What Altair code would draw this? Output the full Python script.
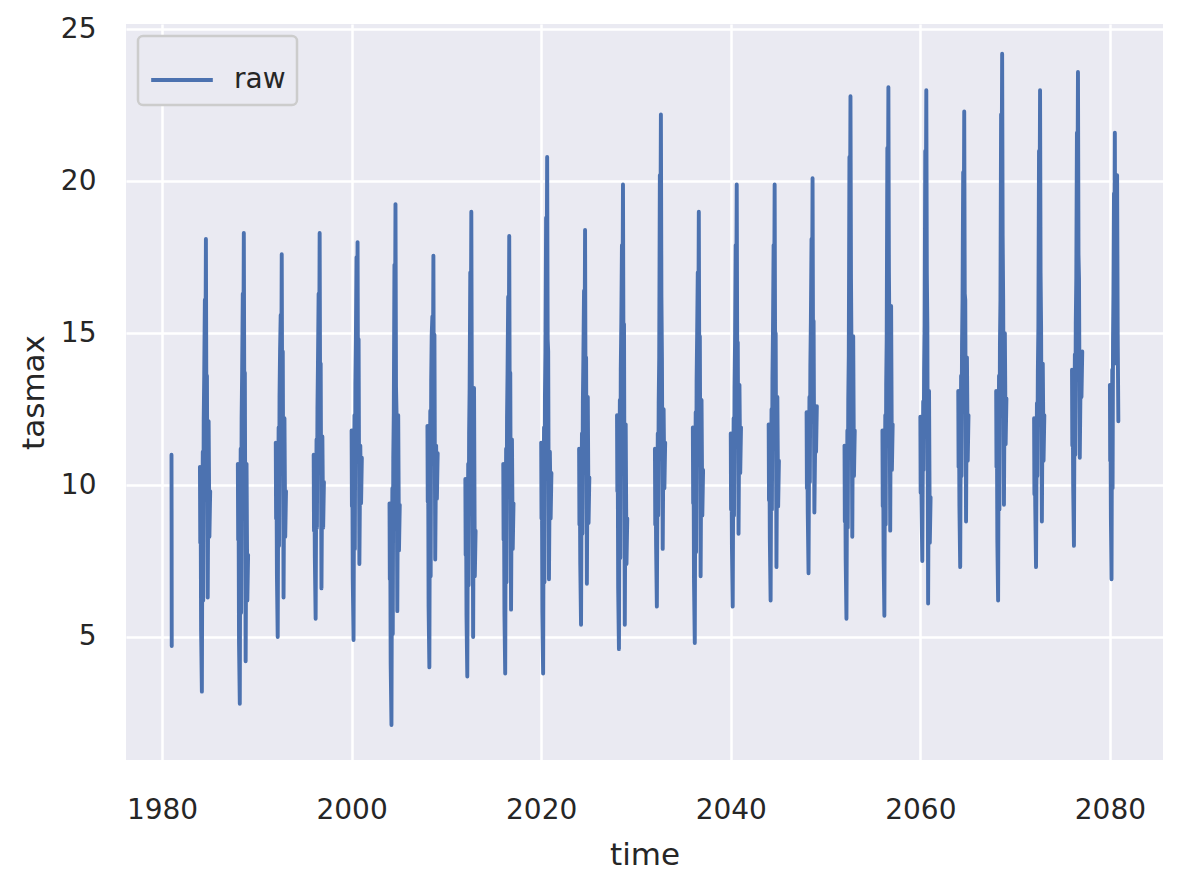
import altair as alt
import pandas as pd

# daily tasmax samples, one cluster per stored year
cluster_years = [1984, 1988, 1992, 1996, 2000, 2004, 2008, 2012, 2016, 2020,
                 2024, 2028, 2032, 2036, 2040, 2044, 2048, 2052, 2056, 2060,
                 2064, 2068, 2072, 2076, 2080]

# day offset from 1 January of each cluster year
sample_days = [0, 12, 25, 45, 75, 95, 110, 125, 145, 165, 190, 210, 230, 250, 270, 300, 335, 365, 395]
last_days = [0, 10, 20, 38, 62, 78, 90, 103, 120, 136, 157, 174, 190, 207, 223, 248, 277, 300, 325]

cluster_values = [
    [10.6, 8.1, 10.1, 5.2, 3.2, 9.1, 11.1, 6.2, 12.1, 13.6, 16.1, 13.6, 18.1, 12.1, 13.6, 6.3, 12.1, 8.3, 9.8],
    [10.7, 8.2, 10.2, 4.8, 2.8, 9.2, 11.2, 5.8, 12.2, 13.7, 16.3, 13.8, 18.3, 12.3, 13.7, 4.2, 10.7, 6.2, 7.7],
    [11.4, 8.9, 10.9, 7.0, 5.0, 9.9, 11.9, 8.0, 12.9, 14.4, 15.6, 13.1, 17.6, 11.6, 14.4, 6.3, 12.2, 8.3, 9.8],
    [11.0, 8.5, 10.5, 7.6, 5.6, 9.5, 11.5, 8.6, 12.5, 14.0, 16.3, 13.8, 18.3, 12.3, 14.0, 6.6, 11.6, 8.6, 10.1],
    [11.8, 9.3, 11.3, 6.9, 4.9, 10.3, 12.3, 7.9, 13.3, 14.8, 17.5, 13.5, 18.0, 12.0, 14.8, 7.4, 11.3, 9.4, 10.9],
    [9.4, 6.9, 8.9, 4.1, 2.1, 7.9, 9.9, 5.1, 10.9, 12.4, 17.25, 14.75, 19.25, 13.25, 12.4, 5.85, 12.3, 7.85, 9.35],
    [11.95, 9.45, 11.45, 6.0, 4.0, 10.45, 12.45, 7.0, 13.45, 14.95, 15.55, 13.05, 17.55, 11.55, 14.95, 7.55, 11.3, 9.55, 11.05],
    [10.2, 7.7, 9.7, 5.7, 3.7, 8.7, 10.7, 6.7, 11.7, 13.2, 17.0, 14.5, 19.0, 13.0, 13.2, 5.0, 13.2, 7.0, 8.5],
    [10.7, 8.2, 10.2, 5.8, 3.8, 9.2, 11.2, 6.8, 12.2, 13.7, 16.2, 13.7, 18.2, 12.2, 13.7, 5.9, 11.5, 7.9, 9.4],
    [11.4, 8.9, 10.9, 5.8, 3.8, 9.9, 11.9, 6.8, 12.9, 14.4, 18.8, 16.3, 20.8, 14.8, 14.4, 6.9, 11.1, 8.9, 10.4],
    [11.2, 8.7, 10.7, 7.4, 5.4, 9.7, 11.7, 8.4, 12.7, 14.2, 16.4, 13.9, 18.4, 12.4, 14.2, 6.75, 12.9, 8.75, 10.25],
    [12.3, 9.8, 11.8, 6.6, 4.6, 10.8, 12.8, 7.6, 13.8, 15.3, 17.9, 15.4, 19.9, 13.9, 15.3, 5.4, 12.0, 7.4, 8.9],
    [11.2, 8.7, 10.7, 8.0, 6.0, 9.7, 11.7, 9.0, 12.7, 14.2, 20.2, 17.7, 22.2, 16.2, 14.2, 7.9, 12.5, 9.9, 11.4],
    [11.9, 9.4, 11.4, 6.8, 4.8, 10.4, 12.4, 7.8, 13.4, 14.9, 17.0, 14.5, 19.0, 13.0, 14.9, 7.0, 12.8, 9.0, 10.5],
    [11.7, 9.2, 11.2, 8.0, 6.0, 10.2, 12.2, 9.0, 13.2, 14.7, 17.9, 15.4, 19.9, 13.9, 14.7, 8.4, 13.3, 10.4, 11.9],
    [12.0, 9.5, 11.5, 8.2, 6.2, 10.5, 12.5, 9.2, 13.5, 15.0, 17.9, 15.4, 19.9, 13.9, 15.0, 7.3, 12.9, 9.3, 10.8],
    [12.4, 9.9, 11.9, 9.1, 7.1, 10.9, 12.9, 10.1, 13.9, 15.4, 18.1, 15.6, 20.1, 14.1, 15.4, 9.1, 11.7, 11.1, 12.6],
    [11.3, 8.8, 10.8, 7.6, 5.6, 9.8, 11.8, 8.6, 12.8, 14.3, 20.8, 18.3, 22.8, 16.8, 14.3, 8.3, 14.9, 10.3, 11.8],
    [11.8, 9.3, 11.3, 7.7, 5.7, 10.3, 12.3, 8.7, 13.3, 14.8, 21.1, 18.6, 23.1, 17.1, 14.8, 8.5, 15.9, 10.5, 12.0],
    [12.25, 9.75, 11.75, 9.5, 7.5, 10.75, 12.75, 10.5, 13.75, 15.25, 21.0, 18.5, 23.0, 17.0, 15.25, 6.1, 13.1, 8.1, 9.6],
    [13.1, 10.6, 12.6, 9.3, 7.3, 11.6, 13.6, 10.3, 14.6, 16.1, 20.3, 17.8, 22.3, 16.3, 16.1, 8.8, 14.2, 10.8, 12.3],
    [13.1, 10.6, 12.6, 8.2, 6.2, 11.6, 13.6, 9.2, 14.6, 16.1, 22.2, 19.7, 24.2, 18.2, 16.1, 9.35, 15.0, 11.35, 12.85],
    [12.2, 9.7, 11.7, 9.3, 7.3, 10.7, 12.7, 10.3, 13.7, 15.2, 21.0, 18.5, 23.0, 17.0, 15.2, 8.8, 14.0, 10.8, 12.3],
    [13.8, 11.3, 13.3, 10.0, 8.0, 12.3, 14.3, 11.0, 15.3, 16.8, 21.6, 19.1, 23.6, 17.6, 16.8, 10.9, 13.9, 12.9, 14.4],
    [13.3, 10.8, 12.8, 8.9, 6.9, 11.8, 13.8, 9.9, 14.8, 16.3, 19.6, 17.1, 21.6, 15.6, 16.3, 14.0, 20.2, 15.0, 12.1],
]

# the short first piece at the start of 1981
first_days = [0, 4, 9]
first_values = [11.0, 8.8, 4.7]

x_ticks = [1980, 2000, 2020, 2040, 2060, 2080]
y_ticks = [5, 10, 15, 20, 25]

TEXT = "#262626"
BLUE = "#4C72B0"
FONT = "DejaVu Sans"

rows = []
for d, v in zip(first_days, first_values):
    rows.append({"time": 1981 + d / 365.25, "tasmax": v, "season": 1981, "series": "raw"})
for yr, vals in zip(cluster_years, cluster_values):
    days = last_days if yr == cluster_years[-1] else sample_days
    for d, v in zip(days, vals):
        rows.append({"time": yr + d / 365.25, "tasmax": v, "season": yr, "series": "raw"})
df = pd.DataFrame(rows)

chart = alt.Chart(df).mark_line(
    strokeWidth=3.9, strokeJoin="round", strokeCap="round"
).encode(
    x=alt.X(
        "time:Q",
        title="time",
        scale=alt.Scale(domain=[1976.2, 2085.6], nice=False, zero=False),
        axis=alt.Axis(
            values=x_ticks, format="d",
            labelBaseline="alphabetic", labelPadding=58,
            titleY=104, titleBaseline="alphabetic",
        ),
    ),
    y=alt.Y(
        "tasmax:Q",
        title="tasmax",
        scale=alt.Scale(domain=[0.95, 25.18], nice=False, zero=False),
        axis=alt.Axis(
            values=y_ticks, labelPadding=30,
            titleX=-83, titleY=368, titleBaseline="alphabetic", titleAlign="center",
        ),
    ),
    color=alt.Color(
        "series:N",
        scale=alt.Scale(range=[BLUE]),
        legend=alt.Legend(
            title=None, orient="none", legendX=12, legendY=12,
            symbolType="stroke", symbolSize=3800, symbolStrokeWidth=3.9,
            labelFontSize=28, labelOffset=19, padding=11,
            cornerRadius=5, fillColor="#EAEAF2", strokeColor="#CCCCCC",
        ),
    ),
    detail="season:N",
).properties(
    width=1037,
    height=736,
    autosize=alt.AutoSizeParams(type="none"),
    padding={"left": 118, "top": 16, "right": 13, "bottom": 112},
    background="white",
).configure_view(
    fill="#EAEAF2", stroke=None
).configure_axis(
    grid=True, gridColor="white", gridWidth=2.5,
    domain=False, ticks=False, tickSize=0,
    labelFont=FONT, labelFontSize=28, labelColor=TEXT,
    titleFont=FONT, titleFontSize=31, titleFontWeight="normal", titleColor=TEXT,
).configure_legend(
    labelFont=FONT, labelColor=TEXT, strokeWidth=2.5,
)

chart.save("out.html", embed_options={"renderer": "svg", "actions": False})
